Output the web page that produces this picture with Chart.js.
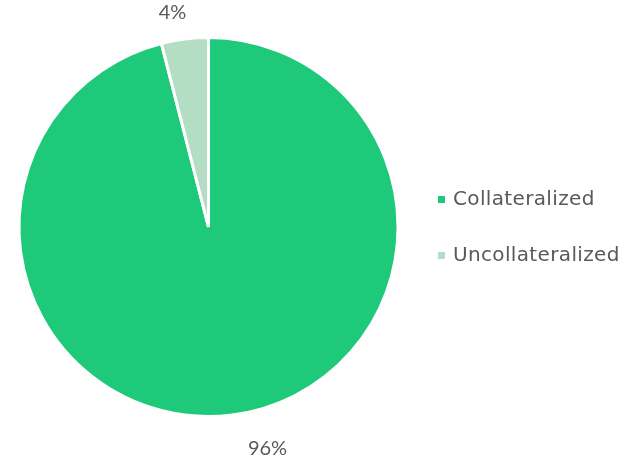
<!DOCTYPE html>
<html><head><meta charset="utf-8">
<script src="https://cdn.jsdelivr.net/npm/chart.js@4"></script>
<style>
html,body{margin:0;padding:0;background:#fff;}
#wrap{position:relative;width:625px;height:460px;}
#legend{position:absolute;left:438px;top:183px;font-family:"DejaVu Sans",sans-serif;font-size:20px;letter-spacing:0.35px;color:#595959;}
#legend .item{display:flex;align-items:center;height:30px;margin-bottom:26px;white-space:nowrap;}
#legend .box{width:7px;height:7px;margin-right:8px;margin-top:2px;}
</style></head>
<body><div id="wrap"><canvas id="c" width="625" height="460"></canvas><div id="legend"></div></div>
<script>
const categories = ["Collateralized", "Uncollateralized"];
const values = [96, 4];
const valueLabels = ["96%", "4%"];
const colors = ["#1FC97A", "#B3DEC3"];

const labelPlugin = {
  id: 'outLabels',
  afterDatasetsDraw(chart) {
    const ctx = chart.ctx;
    const meta = chart.getDatasetMeta(0);
    ctx.save();
    ctx.font = '20px Lato, sans-serif';
    ctx.fillStyle = '#595959';
    ctx.textAlign = 'center';
    ctx.textBaseline = 'middle';
    meta.data.forEach((arc, i) => {
      const p = arc.getProps(['x','y','startAngle','endAngle','outerRadius'], true);
      const mid = (p.startAngle + p.endAngle) / 2;
      const r = p.outerRadius + 26;
      const dx = i === 0 ? 32 : -9;
      const dy = i === 0 ? 8 : -1;
      ctx.fillText(valueLabels[i], p.x + Math.cos(mid) * r + dx, p.y + Math.sin(mid) * r + dy);
    });
    ctx.restore();
  }
};

const chart = new Chart(document.getElementById('c'), {
  type: 'pie',
  data: {
    labels: categories,
    datasets: [{ data: values, backgroundColor: colors, borderColor: '#ffffff', borderWidth: 3 }]
  },
  options: {
    responsive: false,
    animation: false,
    layout: { padding: { left: 0, right: 208, top: 36, bottom: 42 } },
    plugins: { legend: { display: false }, tooltip: { enabled: false } }
  },
  plugins: [labelPlugin]
});

const leg = document.getElementById('legend');
categories.forEach((c, i) => {
  const d = document.createElement('div');
  d.className = 'item';
  d.innerHTML = '<span class="box" style="background:' + colors[i] + '"></span><span>' + c + '</span>';
  leg.appendChild(d);
});
</script>
</body></html>
